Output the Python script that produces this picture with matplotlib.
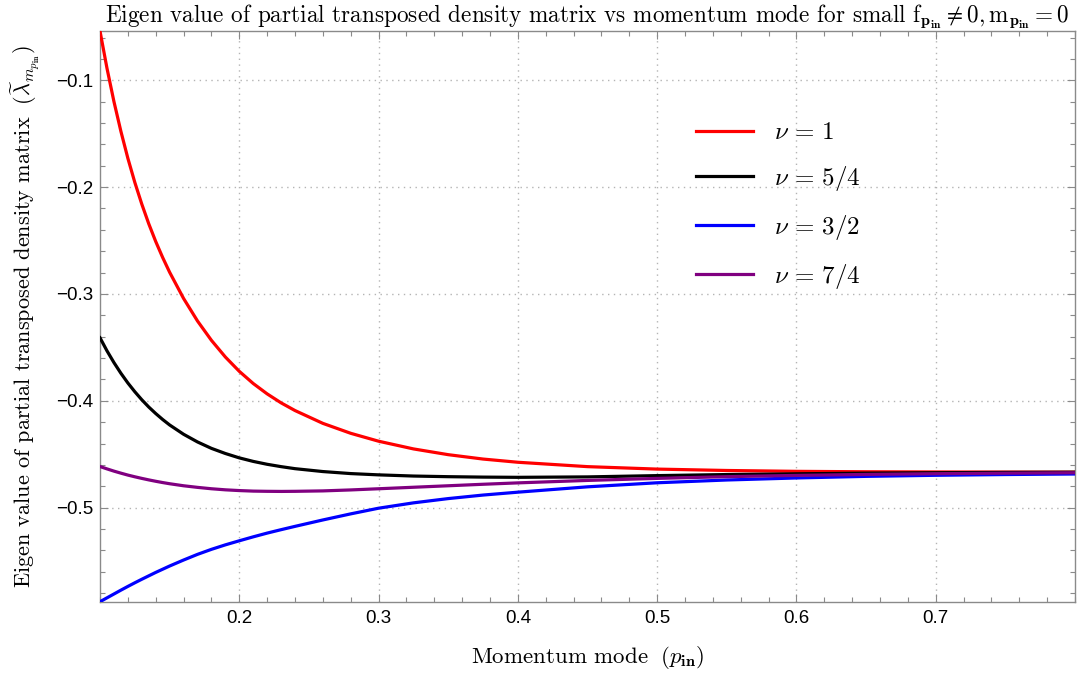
import matplotlib
matplotlib.use("Agg")
import matplotlib.pyplot as plt
from matplotlib.ticker import FixedLocator, MultipleLocator

# Momentum mode samples
p_in = [0.100, 0.105, 0.110, 0.115, 0.120, 0.125, 0.130, 0.135, 0.140, 0.145,
        0.150, 0.160, 0.170, 0.180, 0.190, 0.200, 0.210, 0.220, 0.230, 0.240,
        0.260, 0.280, 0.300, 0.325, 0.350, 0.375, 0.400, 0.450, 0.500, 0.550,
        0.600, 0.650, 0.700, 0.750, 0.800]

# Eigenvalue of the partially transposed density matrix for each nu
lam_nu_1 = [-0.0539, -0.0887, -0.1199, -0.1478, -0.1730, -0.1956, -0.2159,
            -0.2343, -0.2509, -0.2659, -0.2797, -0.3042, -0.3253, -0.3434,
            -0.3590, -0.3724, -0.3838, -0.3935, -0.4019, -0.4091, -0.4211,
            -0.4304, -0.4378, -0.4450, -0.4504, -0.4545, -0.4575, -0.4616,
            -0.4639, -0.4652, -0.4660, -0.4664, -0.4666, -0.4667, -0.4668]
lam_nu_5_4 = [-0.3410, -0.3532, -0.3642, -0.3742, -0.3833, -0.3915, -0.3990,
              -0.4058, -0.4119, -0.4175, -0.4226, -0.4313, -0.4385, -0.4445,
              -0.4493, -0.4534, -0.4567, -0.4594, -0.4616, -0.4635, -0.4662,
              -0.4681, -0.4693, -0.4704, -0.4710, -0.4714, -0.4716, -0.4712,
              -0.4700, -0.4690, -0.4683, -0.4677, -0.4673, -0.4670, -0.4668]
lam_nu_3_2 = [-0.5880, -0.5844, -0.5808, -0.5772, -0.5737, -0.5703, -0.5670,
              -0.5638, -0.5606, -0.5576, -0.5546, -0.5490, -0.5437, -0.5390,
              -0.5348, -0.5310, -0.5273, -0.5238, -0.5206, -0.5175, -0.5115,
              -0.5058, -0.5005, -0.4955, -0.4915, -0.4882, -0.4855, -0.4805,
              -0.4767, -0.4741, -0.4722, -0.4707, -0.4697, -0.4690, -0.4685]
lam_nu_7_4 = [-0.4615, -0.4637, -0.4658, -0.4677, -0.4695, -0.4711, -0.4726,
              -0.4740, -0.4753, -0.4765, -0.4776, -0.4795, -0.4810, -0.4823,
              -0.4833, -0.4840, -0.4845, -0.4847, -0.4848, -0.4847, -0.4843,
              -0.4834, -0.4823, -0.4809, -0.4795, -0.4781, -0.4768, -0.4745,
              -0.4726, -0.4710, -0.4698, -0.4689, -0.4682, -0.4677, -0.4673]

x_ticks = [0.2, 0.3, 0.4, 0.5, 0.6, 0.7]
y_ticks = [-0.5, -0.4, -0.3, -0.2, -0.1]

labels = [r"$\nu\,=\,1$", r"$\nu\,=\,5/4$", r"$\nu\,=\,3/2$", r"$\nu\,=\,7/4$"]
colors = ["#ff0000", "#000000", "#0000ff", "#800080"]

plt.rcParams["font.family"] = ["Liberation Sans", "DejaVu Sans"]
plt.rcParams["mathtext.fontset"] = "cm"
plt.rcParams["axes.unicode_minus"] = True

fig = plt.figure(figsize=(10.77, 6.74), dpi=100)
ax = fig.add_axes([100 / 1077, 1 - 601.7 / 674, 975 / 1077, 570.7 / 674])

for ys, c, lab in zip([lam_nu_1, lam_nu_5_4, lam_nu_3_2, lam_nu_7_4],
                      colors, labels):
    ax.plot(p_in, ys, color=c, lw=2.3, label=lab, solid_joinstyle="round",
            zorder=3)

all_y = lam_nu_1 + lam_nu_5_4 + lam_nu_3_2 + lam_nu_7_4
ax.set_xlim(min(p_in), max(p_in))
ax.set_ylim(min(all_y), max(all_y))

frame_c = "#8a8a8a"
for s in ax.spines.values():
    s.set_color(frame_c)
    s.set_linewidth(1.0)

ax.xaxis.set_major_locator(FixedLocator(x_ticks))
ax.xaxis.set_minor_locator(MultipleLocator(0.02))
ax.yaxis.set_major_locator(FixedLocator(y_ticks))
ax.yaxis.set_minor_locator(MultipleLocator(0.02))
ax.tick_params(which="both", direction="in", top=True, right=True,
               color=frame_c, width=0.8, labelsize=13.5)
ax.tick_params(which="major", length=6)
ax.tick_params(which="minor", length=3.5)
ax.tick_params(axis="x", which="major", pad=6)
ax.tick_params(axis="y", which="major", pad=5)

ax.grid(True, which="major", color="#b4b4b4", lw=1.0,
        linestyle=(0, (1, 3.2)), zorder=1)

ax.set_title(r"Eigen value of partial transposed density matrix vs momentum mode for small "
             r"$\mathrm{f}_{\mathbf{p_{in}}}\neq 0, \mathrm{m}_{\mathbf{p_{in}}}=0$",
             fontfamily="cmr10", fontsize=16.7, pad=6)
ax.set_xlabel(r"Momentum mode $\;(p_{\mathbf{in}})$", fontfamily="cmr10",
              fontsize=16.5)
ax.xaxis.set_label_coords(0.5, -0.074)
ax.set_ylabel(r"Eigen value of partial transposed density matrix $\;"
              r"(\widetilde{\lambda}_{m_{p_{\mathbf{in}}}})$",
              fontfamily="cmr10", fontsize=16)
ax.yaxis.set_label_coords(-0.059, 0.5)

ax.legend(loc="upper left", bbox_to_anchor=(0.588, 0.883), frameon=False,
          fontsize=18, handlelength=2.28, handletextpad=0.84,
          labelspacing=0.79)

fig.savefig("out.png", dpi=100)
